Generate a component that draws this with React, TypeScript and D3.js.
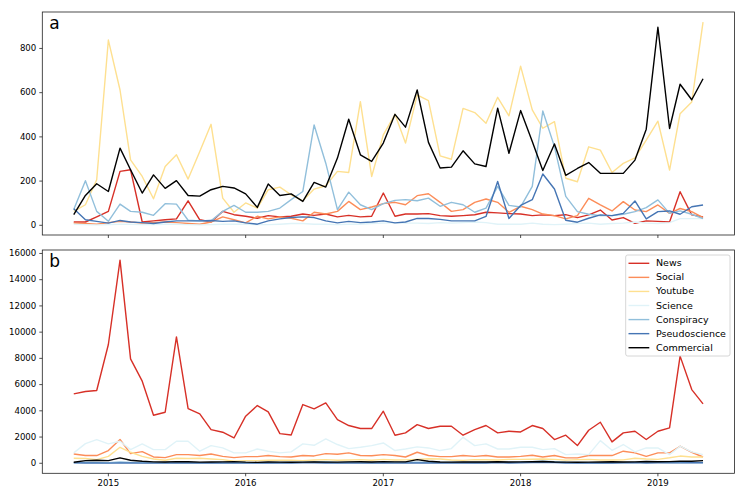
import * as React from "react";
import * as d3 from "d3";

// monthly points, Oct 2014 .. May 2019
const months: Date[] = d3.utcMonth.range(new Date(Date.UTC(2014, 9, 1)), new Date(Date.UTC(2019, 5, 1)));

const seriesNames = ["News", "Social", "Youtube", "Science", "Conspiracy", "Pseudoscience", "Commercial"];
const seriesColors = ["#d73027", "#fc8d59", "#fee090", "#e0f3f8", "#91bfdb", "#4575b4", "#000000"];

// panel a
const newsA = [15,15,38,63,244,251,15,20,25,29,111,25,15,63,48,41,32,44,38,41,51,45,51,38,45,38,41,146,41,51,51,53,44,41,44,48,59,56,53,51,44,47,44,48,35,47,69,24,35,9,20,18,15,152,47,38];
const socialA = [10,8,5,12,18,15,10,12,15,12,8,5,15,38,25,11,41,29,38,32,20,59,51,63,108,71,83,98,104,93,134,143,104,63,71,104,119,104,59,86,71,51,44,29,44,122,92,65,107,69,62,92,54,76,62,35];
const youtubeA = [63,93,206,838,612,296,221,120,266,319,209,334,457,123,59,101,78,161,173,138,111,164,179,244,239,559,221,409,502,372,590,564,314,299,529,510,462,579,495,720,522,439,469,213,197,355,340,239,280,305,385,471,250,505,558,919];
const scienceA = [5,3,2,3,5,4,3,3,5,5,3,2,3,5,5,5,3,3,5,8,8,5,5,3,5,5,8,10,12,10,10,8,12,10,12,15,12,5,5,5,10,5,3,5,8,10,5,8,10,15,10,8,12,30,30,30];
const conspiracyA = [71,202,63,18,96,63,59,45,98,96,23,20,20,63,90,59,59,63,78,116,153,454,281,71,150,93,71,98,113,116,111,123,86,104,93,59,78,176,90,83,176,517,356,131,62,50,44,44,50,62,80,115,54,65,50,30];
const pseudoA = [75,25,18,10,22,15,12,8,15,20,20,20,22,18,20,11,5,20,29,35,38,35,20,11,18,12,15,20,11,15,31,31,27,20,20,20,40,198,31,90,116,232,164,23,14,32,47,44,54,110,29,62,65,50,84,92];
const commercialA = [48,135,188,153,349,251,146,228,167,202,135,132,161,176,169,142,81,187,135,142,108,194,173,304,480,319,289,372,502,444,612,375,259,263,337,278,266,530,326,519,379,248,368,226,257,284,235,235,235,295,435,896,438,638,568,663];

// panel b
const newsB = [5290,5470,5550,9060,15490,7960,6260,3660,3890,9640,4170,3770,2570,2370,1930,3590,4400,3920,2260,2160,4480,4150,4600,3330,2880,2650,2650,3970,2140,2320,2950,2650,2820,2820,2140,2570,2880,2320,2440,2390,2880,2650,1810,2140,1350,2520,3130,1630,2320,2440,1810,2440,2700,8170,5620,4530];
const socialB = [710,590,590,970,1810,740,890,480,430,660,660,590,710,530,430,510,510,590,510,480,590,560,740,690,790,590,570,660,590,480,840,590,510,510,590,530,590,480,480,530,610,480,590,410,410,590,590,590,920,790,530,790,790,1300,840,480];
const youtubeB = [380,360,280,530,1220,840,530,330,230,380,360,380,330,280,150,200,200,230,230,230,200,250,280,230,250,280,230,300,250,260,300,350,330,250,220,280,270,250,300,300,310,330,300,240,280,300,250,250,260,380,330,300,420,550,480,480];
const scienceB = [790,1500,1810,1480,1680,1040,1480,1040,1040,1680,1680,920,1350,1170,790,790,1090,920,790,870,1480,1370,1860,1430,1120,1220,1350,1550,970,1090,1250,1170,970,1120,1980,1350,1480,1090,1090,1220,1220,1040,1120,660,710,660,1730,990,1430,870,1170,1170,660,1300,870,660];
const conspiracyB = [50,80,60,40,100,70,60,50,60,80,60,40,50,60,80,60,50,60,70,80,90,130,120,60,80,70,60,80,90,80,80,90,70,80,70,60,70,90,70,80,120,160,130,80,60,50,40,50,60,60,70,80,60,60,70,60];
const pseudoB = [40,20,20,15,20,20,15,15,20,20,20,20,20,20,20,15,10,20,20,25,30,30,20,15,20,15,20,20,15,20,25,25,25,20,20,20,25,60,20,40,50,80,60,20,15,20,25,25,30,50,20,30,30,30,40,40];
const commercialB = [80,200,230,200,410,230,150,110,100,130,120,90,100,110,130,90,70,100,90,80,90,110,90,90,110,120,100,130,110,110,280,150,100,90,100,110,100,120,100,110,120,140,100,90,80,90,100,120,100,110,140,120,130,160,160,200];

const yTicksA = [0, 200, 400, 600, 800];
const yTicksB = [0, 2000, 4000, 6000, 8000, 10000, 12000, 14000, 16000];
const xTickYears = [2015, 2016, 2017, 2018, 2019];

const W = 747, H = 498;
const left = 42.3, right = 734.5;
const font = "DejaVu Sans, sans-serif";

function pad(ext: [number, number]): [number, number] {
    const d = (ext[1] - ext[0]) * 0.05;
    return [ext[0] - d, ext[1] + d];
}

const x = d3.scaleUtc()
    .domain(pad([+months[0], +months[months.length - 1]]) as any)
    .range([left, right]);

interface PanelProps {
    label: string,
    top: number,
    bottom: number,
    series: number[][],
    yTicks: number[],
    showXLabels: boolean,
    legend: boolean
}

function Panel(props: PanelProps) {
    const all = props.series.flat();
    const y = d3.scaleLinear()
        .domain(pad(d3.extent(all) as [number, number]))
        .range([props.bottom, props.top]);
    const line = d3.line<number>()
        .x((d, i) => x(months[i]))
        .y(d => y(d));

    return <g>
        {props.series.map((s, k) =>
            <path key={k} d={line(s) || ""} fill="none" stroke={seriesColors[k]}
                strokeWidth={1.4} strokeLinejoin="round" />
        )}
        <rect x={left} y={props.top} width={right - left} height={props.bottom - props.top}
            fill="none" stroke="#222" strokeWidth={0.8} />
        {props.yTicks.map(t =>
            <g key={t} transform={"translate(0," + y(t) + ")"}>
                <line x1={left - 3} x2={left} stroke="#222" strokeWidth={0.8} />
                <text x={left - 6} dy="0.32em" textAnchor="end" fontSize={8.6} fontFamily={font}>{t}</text>
            </g>
        )}
        {xTickYears.map(yr => {
            const px = x(new Date(Date.UTC(yr, 0, 1)));
            return <g key={yr}>
                <line x1={px} x2={px} y1={props.bottom} y2={props.bottom + 3} stroke="#222" strokeWidth={0.8} />
                {props.showXLabels &&
                    <text x={px} y={props.bottom + 13} textAnchor="middle" fontSize={8.6} fontFamily={font}>{yr}</text>}
            </g>;
        })}
        <text x={left + 7} y={props.top + 17} fontSize={17} fontFamily={font}>{props.label}</text>
        {props.legend &&
            <g>
                <rect x={625.7} y={255} width={104.3} height={101} rx={2}
                    fill="white" fillOpacity={0.8} stroke="#cccccc" strokeWidth={0.8} />
                {seriesNames.map((n, k) =>
                    <g key={n} transform={"translate(0," + (263.3 + k * 14.07) + ")"}>
                        <line x1={628.5} x2={649.3} stroke={seriesColors[k]} strokeWidth={1.4} />
                        <text x={656} dy="0.32em" fontSize={9.5} fontFamily={font}>{n}</text>
                    </g>
                )}
            </g>}
    </g>;
}

export default function App() {
    return <div style={{ position: "absolute", left: 0, top: 0 }}>
        <svg width={W} height={H} style={{ display: "block", background: "white" }}>
            <Panel label="a" top={12} bottom={235}
                series={[newsA, socialA, youtubeA, scienceA, conspiracyA, pseudoA, commercialA]}
                yTicks={yTicksA} showXLabels={false} legend={false} />
            <Panel label="b" top={250} bottom={473.3}
                series={[newsB, socialB, youtubeB, scienceB, conspiracyB, pseudoB, commercialB]}
                yTicks={yTicksB} showXLabels={true} legend={true} />
        </svg>
    </div>;
}
